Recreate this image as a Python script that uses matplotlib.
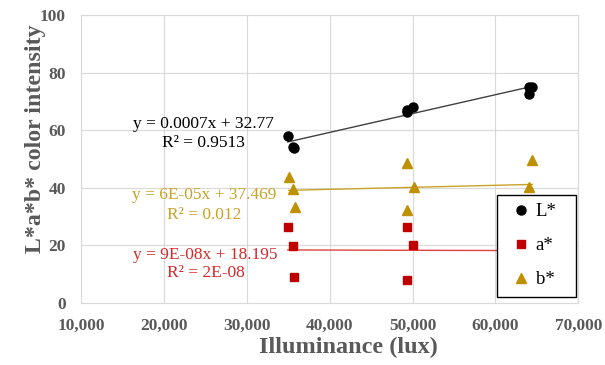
import numpy as np
import matplotlib.pyplot as plt
from matplotlib.ticker import FuncFormatter

# illuminance (lux) and L*a*b* values
L_x = [34940, 35540, 35700, 49280, 49300, 50000, 64100, 64460, 64100]
L_y = [57.8, 54.3, 53.8, 66.4, 67.0, 68.2, 75.1, 75.0, 72.6]
a_x = [34940, 35540, 35660, 49280, 50000, 49280, 64100, 64460, 64100]
a_y = [26.4, 19.8, 9.0, 26.4, 20.2, 8.0, 26.5, 19.8, 8.5]
b_x = [35060, 35540, 35780, 49280, 50120, 49280, 64460, 64100, 64100]
b_y = [43.8, 39.7, 33.4, 48.7, 40.3, 32.3, 49.7, 40.3, 33.0]

eq_L = ['y = 0.0007x + 32.77', 'R\u00b2 = 0.9513']
eq_a = ['y = 9E-08x + 18.195', 'R\u00b2 = 2E-08']
eq_b = ['y = 6E-05x + 37.469', 'R\u00b2 = 0.012']

plt.rcParams['font.family'] = ['Liberation Serif', 'DejaVu Serif']
gray = '#595959'

fig = plt.figure(figsize=(6.05, 3.65), dpi=100)
ax = fig.add_axes([0.134, 0.170, 0.822, 0.789])

series = [
    (L_x, L_y, 'L*', 'o', 'black', 6.5, '#404040'),
    (a_x, a_y, 'a*', 's', '#C00000', 5.5, '#E04040'),
    (b_x, b_y, 'b*', '^', '#BF9000', 7, '#C9A227'),
]
for xs, ys, lab, mk, col, ms, lcol in series:
    ax.plot(xs, ys, mk, color=col, ms=ms, label=lab, zorder=3, linestyle='none')
    k, c = np.polyfit(xs, ys, 1)
    xx = np.array([min(xs), max(xs)])
    ax.plot(xx, k * xx + c, color=lcol, lw=1, zorder=2)

# trendline equations
ax.text(24800, 62.3, eq_L[0], color='black', fontsize=12.5, ha='center', va='center')
ax.text(24800, 55.7, eq_L[1], color='black', fontsize=12.5, ha='center', va='center')
ax.text(24800, 37.6, eq_b[0], color='#C9A227', fontsize=12.5, ha='center', va='center')
ax.text(24900, 30.6, eq_b[1], color='#C9A227', fontsize=12.5, ha='center', va='center')
ax.text(25000, 16.7, eq_a[0], color='#D42A2A', fontsize=12.5, ha='center', va='center')
ax.text(25000, 10.4, eq_a[1], color='#D42A2A', fontsize=12.5, ha='center', va='center')

ax.set_xlim(10000, 70000)
ax.set_ylim(0, 100)
ax.set_xticks(range(10000, 70001, 10000))
ax.set_yticks(range(0, 101, 20))
ax.xaxis.set_major_formatter(FuncFormatter(lambda v, p: f'{int(v):,}'))
ax.grid(True, color='#D9D9D9', lw=0.8, zorder=0)
ax.set_axisbelow(True)
for s in ax.spines.values():
    s.set_color('#D9D9D9')
ax.tick_params(length=0, labelsize=12.5, colors=gray)
ax.tick_params(axis='x', pad=11)
ax.tick_params(axis='y', pad=11)
for t in ax.get_xticklabels() + ax.get_yticklabels():
    t.set_fontweight('bold')

ax.set_xlabel('Illuminance (lux)', fontsize=17.5, fontweight='bold', color=gray)
ax.set_ylabel('L*a*b* color intensity', fontsize=17.2, fontweight='bold', color=gray)
ax.xaxis.set_label_coords(0.537, -0.118)
ax.yaxis.set_label_coords(-0.07, 0.572)

leg = ax.legend(loc='lower left', bbox_to_anchor=(0.837, 0.021, 0.159, 0.365),
                mode='expand', fontsize=13.5,
                frameon=True, fancybox=False, edgecolor='black', framealpha=1,
                labelspacing=0.9, handletextpad=0.0, handlelength=1.6,
                borderpad=0.45, borderaxespad=0)
leg.get_frame().set_linewidth(1)
leg.set_zorder(5)

fig.savefig('out.png', dpi=100)
